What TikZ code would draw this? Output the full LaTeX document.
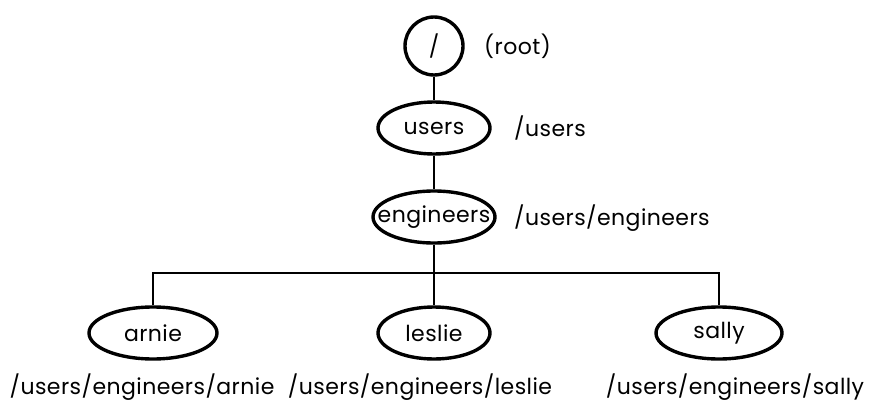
\documentclass[tikz,border=0pt]{standalone}
\usepackage{fontspec}
\setmainfont{Poppins}[LetterSpace=2]
\usetikzlibrary{shapes.geometric}
\newcommand{\dirfont}{\fontsize{22}{26}\selectfont}
\begin{document}
\begin{tikzpicture}[x=1pt,y=-1pt,
  dir/.style={draw,ellipse,line width=3.4pt,minimum width=#1,minimum height=52pt,inner sep=0pt,font=\dirfont},
  dir/.default=112pt,
  lbl/.style={font=\dirfont,inner sep=0pt},
  link/.style={line width=2.4pt}]
  \useasboundingbox (0,0) rectangle (869,412);
  % directory nodes (names centred in fixed-size ellipses)
  \node[draw,circle,line width=3.4pt,minimum size=58pt,inner sep=0pt,font=\dirfont] (root) at (434,46) {/};
  \node[dir=112pt] (users) at (434,128) {\makebox[0pt]{users}};
  \node[dir=122pt] (eng) at (434,217) {\makebox[0pt]{engineers}};
  \node[dir=128pt] (arnie) at (153,333) {\makebox[0pt]{arnie}};
  \node[dir=112pt] (leslie) at (434,333) {\makebox[0pt]{leslie}};
  \node[dir=126pt] (sally) at (719,333) {\makebox[0pt]{sally}};
  % full path labels
  \node[lbl,anchor=west] (lroot) at (484,46) {(root)};
  \node[lbl,anchor=west] (lusers) at (514,128) {/users};
  \node[lbl,anchor=west] (leng) at (514,218) {/users/engineers};
  \node[lbl] (larnie) at (142,387) {/users/engineers/arnie};
  \node[lbl] (lleslie) at (420,387) {/users/engineers/leslie};
  \node[lbl] (lsally) at (735,387) {/users/engineers/sally};
  % tree links
  \coordinate (bar) at (434,273);
  \draw[link] (root) -- (users);
  \draw[link] (users.south) -- (eng.north);
  \draw[link] (eng.south) -- (bar);
  \draw[link] (arnie.north) |- (bar) -| (sally.north);
  \draw[link] (bar) -- (leslie.north);
\end{tikzpicture}
\end{document}
